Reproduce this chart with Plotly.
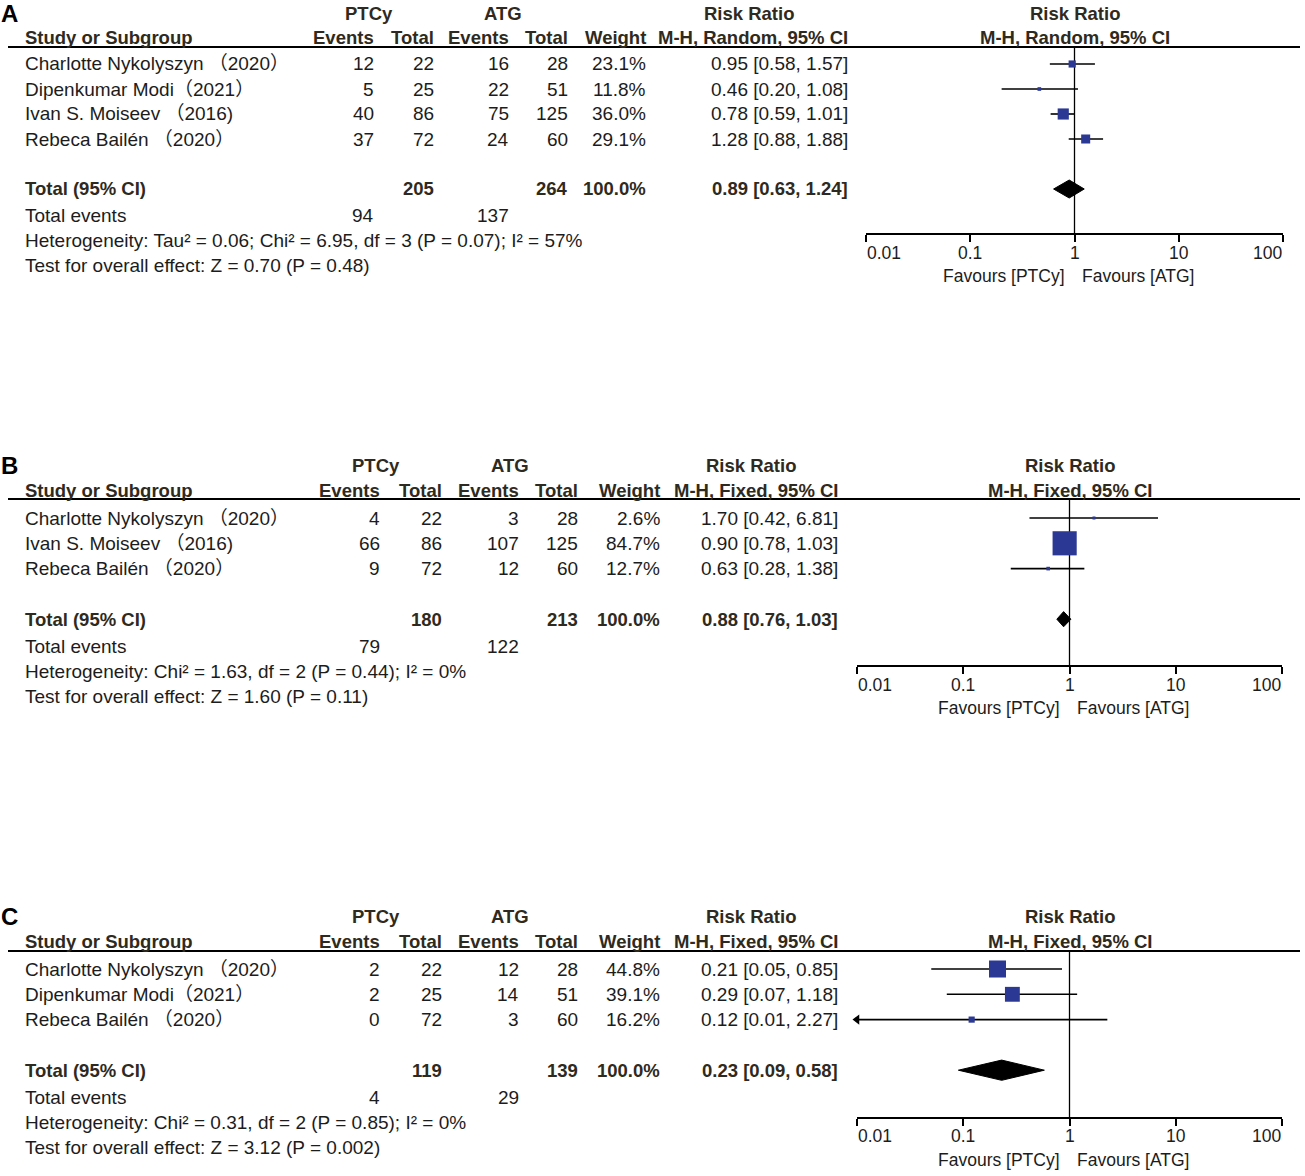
import math
import plotly.graph_objects as go

W, H = 1305, 1176

# ---- panel A data (M-H, Random)
a_studies = ["Charlotte Nykolyszyn （2020）", "Dipenkumar Modi（2021）",
             "Ivan S. Moiseev （2016)", "Rebeca Bailén （2020）"]
a_ptcy_events = [12, 5, 40, 37]
a_ptcy_total = [22, 25, 86, 72]
a_atg_events = [16, 22, 75, 24]
a_atg_total = [28, 51, 125, 60]
a_weight = [23.1, 11.8, 36.0, 29.1]
a_rr = [0.95, 0.46, 0.78, 1.28]
a_lo = [0.58, 0.20, 0.59, 0.88]
a_hi = [1.57, 1.08, 1.01, 1.88]
a_total = {"ptcy_n": 205, "atg_n": 264, "ptcy_ev": 94, "atg_ev": 137,
           "rr": 0.89, "lo": 0.63, "hi": 1.24}
a_het = "Heterogeneity: Tau² = 0.06; Chi² = 6.95, df = 3 (P = 0.07); I² = 57%"
a_test = "Test for overall effect: Z = 0.70 (P = 0.48)"

# ---- panel B data (M-H, Fixed)
b_studies = ["Charlotte Nykolyszyn （2020）", "Ivan S. Moiseev （2016)",
             "Rebeca Bailén （2020）"]
b_ptcy_events = [4, 66, 9]
b_ptcy_total = [22, 86, 72]
b_atg_events = [3, 107, 12]
b_atg_total = [28, 125, 60]
b_weight = [2.6, 84.7, 12.7]
b_rr = [1.70, 0.90, 0.63]
b_lo = [0.42, 0.78, 0.28]
b_hi = [6.81, 1.03, 1.38]
b_total = {"ptcy_n": 180, "atg_n": 213, "ptcy_ev": 79, "atg_ev": 122,
           "rr": 0.88, "lo": 0.76, "hi": 1.03}
b_het = "Heterogeneity: Chi² = 1.63, df = 2 (P = 0.44); I² = 0%"
b_test = "Test for overall effect: Z = 1.60 (P = 0.11)"

# ---- panel C data (M-H, Fixed)
c_studies = ["Charlotte Nykolyszyn （2020）", "Dipenkumar Modi（2021）",
             "Rebeca Bailén （2020）"]
c_ptcy_events = [2, 2, 0]
c_ptcy_total = [22, 25, 72]
c_atg_events = [12, 14, 3]
c_atg_total = [28, 51, 60]
c_weight = [44.8, 39.1, 16.2]
c_rr = [0.21, 0.29, 0.12]
c_lo = [0.05, 0.07, 0.01]
c_hi = [0.85, 1.18, 2.27]
c_total = {"ptcy_n": 119, "atg_n": 139, "ptcy_ev": 4, "atg_ev": 29,
           "rr": 0.23, "lo": 0.09, "hi": 0.58}
c_het = "Heterogeneity: Chi² = 0.31, df = 2 (P = 0.85); I² = 0%"
c_test = "Test for overall effect: Z = 3.12 (P = 0.002)"

tick_vals = [0.01, 0.1, 1, 10, 100]
tick_text = ["0.01", "0.1", "1", "10", "100"]

# layout of each panel in pixels
panels = [
    dict(letter="A", method="M-H, Random, 95% CI",
         studies=a_studies, pe=a_ptcy_events, pt=a_ptcy_total, ae=a_atg_events,
         at=a_atg_total, w=a_weight, rr=a_rr, lo=a_lo, hi=a_hi, tot=a_total,
         het=a_het, test=a_test,
         hdr1=13, hdr2=38, line=47, row0=64, step=25, axis=233, ticklab=253, fav=276,
         fx0=866, fx1=1283, cols=[375, 435, 510, 569, 647, 849],
         grp=[369, 503, 749], msize=0.31, dh=0.36),
    dict(letter="B", method="M-H, Fixed, 95% CI",
         studies=b_studies, pe=b_ptcy_events, pt=b_ptcy_total, ae=b_atg_events,
         at=b_atg_total, w=b_weight, rr=b_rr, lo=b_lo, hi=b_hi, tot=b_total,
         het=b_het, test=b_test,
         hdr1=465, hdr2=490, line=499, row0=518, step=25.3, axis=665, ticklab=685, fav=708,
         fx0=857, fx1=1282, cols=[381, 443, 520, 579, 661, 839],
         grp=[376, 510, 751], msize=0.285, dh=0.3),
    dict(letter="C", method="M-H, Fixed, 95% CI",
         studies=c_studies, pe=c_ptcy_events, pt=c_ptcy_total, ae=c_atg_events,
         at=c_atg_total, w=c_weight, rr=c_rr, lo=c_lo, hi=c_hi, tot=c_total,
         het=c_het, test=c_test,
         hdr1=916, hdr2=942, line=951, row0=969, step=25.3, axis=1117, ticklab=1136, fav=1160,
         fx0=857, fx1=1282, cols=[381, 443, 520, 579, 661, 839],
         grp=[376, 510, 751], msize=0.38, dh=0.4),
]

FONT = "Liberation Sans, Arial, Noto Sans CJK SC, sans-serif"
TXT = "#1c1c1c"
HDR = "#2f2a20"
BLUE = "#2b3894"
REG = 19
BOLD = 18.5
AX = 17.5

fig = go.Figure()
annotations = []
shapes = []


def px(x):
    return x / W


def py(y):
    return 1 - y / H


def text(x, y, s, anchor="left", bold=False, size=None, color=TXT, xref="paper", xshift=0):
    if size is None:
        size = BOLD if bold else REG
    annotations.append(dict(
        x=x if xref != "paper" else px(x), y=py(y), xref=xref, yref="paper",
        text=s, showarrow=False, xanchor=anchor, yanchor="middle", xshift=xshift,
        borderpad=0,
        font=dict(family=FONT, size=size, color=color, weight=700 if bold else 400)))


layout_axes = {}
for i, p in enumerate(panels):
    n = i + 1
    xa = "x" if n == 1 else f"x{n}"
    ya = "y" if n == 1 else f"y{n}"
    c = p["cols"]

    # headers
    text(0, p["hdr1"], p["letter"], bold=True, size=24, color="#000")
    text(p["grp"][0], p["hdr1"], "PTCy", "center", True, color=HDR)
    text(p["grp"][1], p["hdr1"], "ATG", "center", True, color=HDR)
    text(p["grp"][2], p["hdr1"], "Risk Ratio", "center", True, color=HDR)
    text(24, p["hdr2"], "Study or Subgroup", bold=True, color=HDR)
    for col, lab in zip(c, ["Events", "Total", "Events", "Total", "Weight", p["method"]]):
        text(col, p["hdr2"], lab, "right", True, color=HDR)
    fc = (p["fx0"] + p["fx1"]) / 2
    text(fc, p["hdr1"], "Risk Ratio", "center", True, color=HDR)
    text(fc, p["hdr2"], p["method"], "center", True, color=HDR)
    shapes.append(dict(type="line", xref="paper", yref="paper", x0=px(8), x1=px(1300),
                       y0=py(p["line"]), y1=py(p["line"]), line=dict(color="#000", width=2)))

    # study rows
    k = len(p["studies"])
    for r in range(k):
        y = p["row0"] + r * p["step"]
        text(24, y, p["studies"][r])
        vals = [str(p["pe"][r]), str(p["pt"][r]), str(p["ae"][r]), str(p["at"][r]),
                f"{p['w'][r]:.1f}%", f"{p['rr'][r]:.2f} [{p['lo'][r]:.2f}, {p['hi'][r]:.2f}]"]
        for col, v in zip(c, vals):
            text(col, y, v, "right")

    # total rows
    t = p["tot"]
    yt = p["row0"] + (k + 1) * p["step"]
    text(24, yt, "Total (95% CI)", bold=True, color=HDR)
    text(c[1], yt, str(t["ptcy_n"]), "right", True, color=HDR)
    text(c[3], yt, str(t["atg_n"]), "right", True, color=HDR)
    text(c[4], yt, "100.0%", "right", True, color=HDR)
    text(c[5], yt, f"{t['rr']:.2f} [{t['lo']:.2f}, {t['hi']:.2f}]", "right", True, color=HDR)
    ye = yt + p["step"] * 1.07
    text(24, ye, "Total events")
    text(c[0], ye, str(t["ptcy_ev"]), "right")
    text(c[2], ye, str(t["atg_ev"]), "right")
    text(24, ye + p["step"], p["het"])
    text(24, ye + 2 * p["step"], p["test"])

    # forest plot axes
    top = (p["line"] - p["row0"]) / p["step"]
    bot = (p["axis"] - p["row0"]) / p["step"]
    dom_x = [px(p["fx0"]), px(p["fx1"])]
    layout_axes["xaxis" if n == 1 else f"xaxis{n}"] = dict(
        type="log", range=[-2, 2], domain=dom_x, anchor=ya, showline=True,
        linecolor="#000", linewidth=1.5, ticks="outside", ticklen=7, tickwidth=1.5,
        tickcolor="#000", tickvals=tick_vals, showticklabels=False,
        showgrid=False, zeroline=False)
    layout_axes[f"xaxis{n + 3}"] = dict(
        type="log", range=[-2, 2], overlaying=xa, anchor=ya, ticks="inside",
        ticklen=7, tickwidth=1.5, tickcolor="#000", tickvals=tick_vals,
        showticklabels=False, showgrid=False, zeroline=False, showline=False)
    layout_axes["yaxis" if n == 1 else f"yaxis{n}"] = dict(
        domain=[py(p["axis"]), py(p["line"])], range=[bot, top], visible=False,
        anchor=xa)

    for j, (v, lab) in enumerate(zip(tick_vals, tick_text)):
        anc = "left" if j == 0 else ("right" if j == len(tick_vals) - 1 else "center")
        text(math.log10(v), p["ticklab"], lab, anc, size=AX, xref=xa)
    text(0, p["fav"], "Favours [PTCy]", "right", size=AX, xref=xa, xshift=-9)
    text(0, p["fav"], "Favours [ATG]", "left", size=AX, xref=xa, xshift=6)

    # null line
    fig.add_trace(go.Scatter(x=[1, 1], y=[top, bot], mode="lines", xaxis=xa, yaxis=ya,
                             line=dict(color="#000", width=1.3), hoverinfo="skip",
                             showlegend=False))
    # CIs
    for r in range(k):
        fig.add_trace(go.Scatter(x=[p["lo"][r], p["hi"][r]], y=[r, r], mode="lines",
                                 xaxis=xa, yaxis=ya, line=dict(color="#000", width=1.6),
                                 showlegend=False, hoverinfo="skip"))
        if p["lo"][r] <= 0.01:
            fig.add_trace(go.Scatter(x=[p["lo"][r]], y=[r], mode="markers", xaxis=xa,
                                     yaxis=ya, marker=dict(symbol="triangle-left", size=9,
                                                           color="#000", opacity=1),
                                     cliponaxis=False, showlegend=False))
    # squares
    fig.add_trace(go.Scatter(x=p["rr"], y=list(range(k)), mode="markers", xaxis=xa, yaxis=ya,
                             marker=dict(symbol="square", color=BLUE, opacity=1,
                                         size=[max(3, p["msize"] * w) for w in p["w"]],
                                         line=dict(width=0)),
                             opacity=1, showlegend=False))
    # diamond
    rt = k + 1
    fig.add_trace(go.Scatter(x=[t["lo"], t["rr"], t["hi"], t["rr"], t["lo"]],
                             y=[rt, rt - p["dh"], rt, rt + p["dh"], rt], mode="lines",
                             fill="toself", fillcolor="#000", line=dict(color="#000", width=1),
                             xaxis=xa, yaxis=ya, showlegend=False))

fig.update_layout(
    width=W, height=H, margin=dict(l=0, r=0, t=0, b=0),
    paper_bgcolor="white", plot_bgcolor="rgba(0,0,0,0)",
    annotations=annotations, shapes=shapes, showlegend=False, hovermode=False,
    **layout_axes,
)
fig.write_html("out.html", config={"displayModeBar": False},
               post_script="document.body.style.margin='0px';")
